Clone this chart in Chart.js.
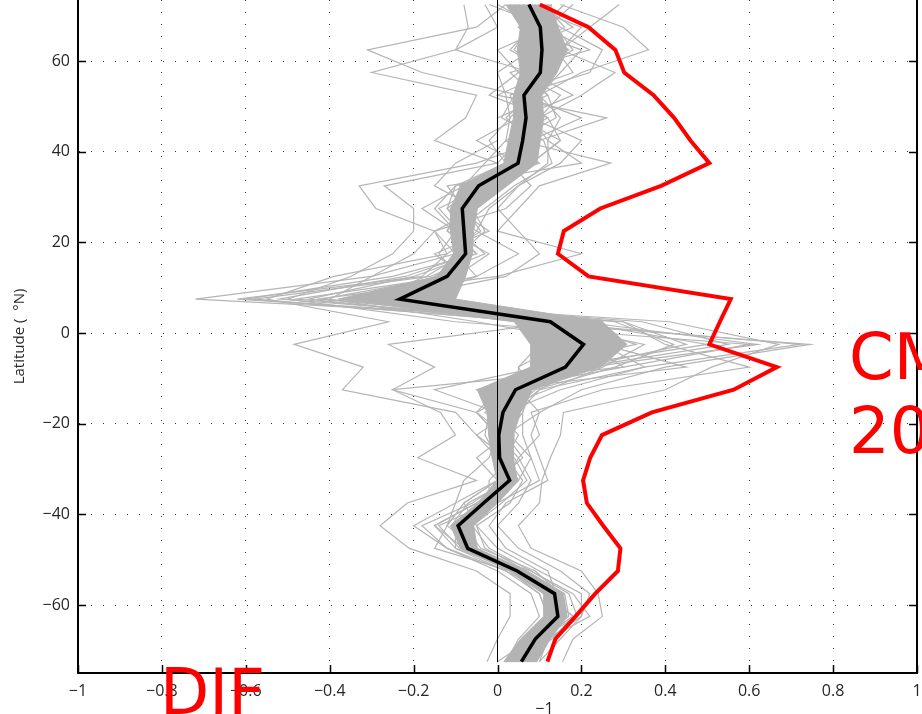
<!DOCTYPE html>
<html>
<head>
<meta charset="utf-8">
<script src="https://cdn.jsdelivr.net/npm/chart.js@4.4.1/dist/chart.umd.min.js"></script>
<style>
  html, body { margin: 0; padding: 0; background: #fff; overflow: hidden; }
  #wrap { position: relative; width: 922px; height: 714px; overflow: hidden; }
  .tag { position: absolute; color: #ff0000; font-family: "DejaVu Sans"; font-size: 64px; line-height: 74px; white-space: nowrap; }
  #xtitle { position: absolute; left: 0; top: 716px; width: 994px; text-align: center; font-family: "Open Sans"; font-size: 14px; line-height: 17px; color: #262626; white-space: nowrap; }
  #xtitle sup { position: relative; top: -16px; vertical-align: baseline; font-size: 16px; }
</style>
</head>
<body>
<div id="wrap">
  <canvas id="chart" width="922" height="714"></canvas>
  <div id="xtitle">Trend (mm day<sup>−1</sup>)</div>
  <div class="tag" style="left:160px; top:655px;">DJF</div>
  <div class="tag" style="left:849px; top:320px;">CMIP5<br>2006</div>
</div>
<script>
// latitude rows, north to south
const latitudes = [72.5, 67.5, 62.5, 57.5, 52.5, 47.5, 42.5, 37.5, 32.5, 27.5, 22.5, 17.5, 12.5, 7.5, 2.5,
  -2.5, -7.5, -12.5, -17.5, -22.5, -27.5, -32.5, -37.5, -42.5, -47.5, -52.5, -57.5, -62.5, -67.5, -72.5];

const xTicks = [-1, -0.8, -0.6, -0.4, -0.2, 0, 0.2, 0.4, 0.6, 0.8, 1];
const yTicks = [-60, -40, -20, 0, 20, 40, 60];
const yMin = -75;
const yMax = 73.5;

// multi-model mean (black) and observations (red)
const ensembleMean = [0.075, 0.102, 0.106, 0.102, 0.063, 0.068, 0.060, 0.049, -0.045, -0.084, -0.080, -0.076, -0.120, -0.233, 0.126,
  0.205, 0.162, 0.043, 0.013, 0.003, 0.005, 0.029, -0.033, -0.094, -0.071, 0.047, 0.136, 0.144, 0.090, 0.057];
const observed = [0.101, 0.217, 0.281, 0.302, 0.372, 0.421, 0.460, 0.505, 0.390, 0.245, 0.158, 0.144, 0.217, 0.556, 0.530,
  0.505, 0.666, 0.563, 0.368, 0.249, 0.221, 0.204, 0.213, 0.252, 0.293, 0.287, 0.233, 0.186, 0.138, 0.119];

// shaded spread
const bandHigh = [0.126, 0.145, 0.166, 0.142, 0.106, 0.110, 0.102, 0.094, 0.023, -0.048, -0.057, -0.060, -0.076, -0.100, 0.250,
  0.309, 0.245, 0.083, 0.055, 0.038, 0.038, 0.047, 0.000, -0.057, -0.048, 0.071, 0.157, 0.166, 0.126, 0.094];
const bandLow = [0.020, 0.055, 0.047, 0.055, 0.038, 0.038, 0.026, 0.015, -0.088, -0.112, -0.112, -0.105, -0.144, -0.380, 0.040,
  0.079, 0.079, -0.048, -0.025, -0.021, -0.013, -0.001, -0.048, -0.112, -0.088, 0.031, 0.110, 0.110, 0.055, 0.015];

// individual models (grey)
const model01 = [0.02, -0.05, -0.31, -0.18, 0.05, 0.12, 0.02, 0.10, -0.10, -0.12, -0.05, -0.10, -0.30, -0.72, 0.30, 0.45, 0.20, 0.05, -0.05, 0.02, 0.06, 0.00, -0.08, -0.12, -0.05, 0.05, 0.12, 0.18, 0.10, 0.05];
const model02 = [0.15, 0.30, 0.36, 0.20, 0.10, 0.05, 0.15, 0.08, -0.02, -0.10, -0.12, -0.05, -0.25, -0.60, 0.10, 0.72, 0.35, 0.10, 0.03, -0.05, 0.00, 0.05, -0.02, -0.10, -0.08, 0.08, 0.18, 0.22, 0.12, 0.08];
const model03 = [0.10, 0.18, 0.05, 0.12, 0.00, 0.26, 0.10, -0.05, -0.33, -0.29, -0.15, -0.12, -0.39, -0.55, -0.26, -0.485, -0.32, -0.37, -0.10, -0.05, 0.02, 0.04, -0.05, -0.15, -0.10, 0.02, 0.10, 0.12, 0.06, 0.03];
const model04 = [0.29, 0.22, 0.15, 0.05, 0.15, 0.10, 0.05, 0.27, 0.10, 0.05, 0.00, 0.20, 0.00, -0.43, 0.41, 0.67, 0.51, 0.40, 0.157, 0.15, 0.126, 0.106, 0.10, 0.05, 0.08, 0.20, 0.24, 0.25, 0.18, 0.155];
const model05 = [-0.08, -0.07, -0.10, -0.30, -0.05, -0.076, -0.15, 0.00, -0.27, -0.20, -0.20, -0.25, -0.35, -0.50, -0.10, 0.60, 0.30, -0.25, -0.136, -0.10, -0.19, -0.05, -0.215, -0.28, -0.21, -0.05, 0.03, 0.03, 0.00, -0.025];
const model06 = [0.05, 0.08, 0.12, 0.10, 0.08, 0.02, 0.08, 0.05, 0.00, -0.05, -0.08, -0.10, -0.14, -0.37, 0.345, 0.55, 0.20, 0.10, 0.05, 0.03, 0.08, 0.05, 0.00, -0.08, -0.05, 0.06, 0.15, 0.16, 0.09, 0.06];
const model07 = [0.12, 0.05, 0.20, 0.15, 0.10, 0.15, 0.12, 0.12, 0.05, -0.02, -0.05, 0.05, -0.05, -0.30, 0.20, 0.30, 0.10, -0.15, 0.00, 0.05, 0.02, 0.06, 0.03, -0.05, 0.00, 0.10, 0.20, 0.20, 0.15, 0.10];
const model08 = [0.00, 0.10, 0.08, 0.00, 0.02, 0.03, -0.02, 0.02, -0.10, -0.15, -0.10, -0.05, -0.20, -0.45, 0.05, 0.745, 0.40, 0.20, 0.10, 0.02, -0.05, 0.00, -0.10, -0.20, -0.12, 0.00, 0.08, 0.10, 0.05, 0.02];
const model09 = [0.08, 0.15, 0.25, 0.22, 0.05, 0.08, 0.20, 0.15, 0.05, 0.00, 0.05, 0.10, 0.02, -0.25, 0.25, 0.15, 0.05, 0.05, 0.10, 0.08, 0.10, 0.12, 0.02, -0.02, 0.02, 0.12, 0.14, 0.15, 0.12, 0.09];
const model10 = [0.18, 0.12, 0.00, 0.05, 0.12, 0.00, 0.00, -0.10, -0.15, -0.05, -0.15, -0.20, -0.30, -0.40, -0.05, 0.25, 0.45, 0.00, -0.05, 0.00, -0.02, -0.08, -0.10, -0.12, -0.15, 0.03, 0.10, 0.12, 0.08, 0.00];
const model11 = [-0.03, 0.00, -0.10, 0.08, 0.18, 0.05, -0.05, 0.05, 0.00, -0.10, -0.02, -0.15, -0.08, -0.35, 0.15, -0.26, -0.15, -0.25, -0.05, 0.00, 0.05, 0.02, -0.03, -0.10, -0.10, 0.05, 0.12, 0.14, 0.06, 0.04];
const model12 = [0.06, 0.20, 0.15, 0.28, 0.20, 0.10, 0.05, 0.00, 0.02, -0.08, -0.12, -0.02, -0.10, -0.33, 0.30, 0.40, 0.60, 0.25, 0.08, 0.10, 0.05, 0.08, 0.05, 0.00, 0.05, 0.15, 0.22, 0.20, 0.12, 0.10];
const model13 = [0.10, 0.05, 0.10, 0.05, -0.02, 0.12, 0.15, 0.08, -0.05, -0.12, -0.08, -0.08, -0.15, -0.28, 0.10, 0.35, 0.25, 0.12, -0.02, -0.03, 0.00, 0.03, -0.05, -0.15, -0.08, 0.04, 0.12, 0.13, 0.07, 0.05];
const model14 = [0.04, 0.14, 0.18, 0.10, 0.08, 0.03, 0.02, -0.03, -0.08, -0.18, -0.10, -0.06, -0.22, -0.52, 0.18, 0.50, 0.15, -0.05, 0.04, -0.02, 0.03, 0.00, -0.08, -0.05, -0.03, 0.07, 0.16, 0.17, 0.10, 0.07];
const model15 = [0.13, 0.08, 0.03, 0.12, 0.06, 0.20, 0.08, 0.03, 0.08, 0.02, -0.15, -0.10, -0.05, -0.20, 0.05, 0.10, 0.05, 0.08, 0.06, 0.06, 0.08, 0.10, 0.00, -0.08, -0.04, 0.09, 0.15, 0.14, 0.11, 0.08];
const model16 = [0.07, 0.11, 0.22, 0.03, 0.09, 0.08, 0.12, 0.20, -0.12, -0.08, -0.04, -0.12, -0.18, -0.62, 0.22, 0.25, 0.35, 0.15, 0.02, 0.00, 0.00, 0.02, -0.06, -0.18, -0.12, 0.02, 0.13, 0.15, 0.09, 0.06];
const model17 = [0.09, 0.06, 0.14, 0.18, 0.03, 0.05, 0.09, 0.02, -0.06, -0.10, -0.06, -0.09, -0.12, -0.42, 0.14, 0.28, 0.18, 0.02, 0.00, 0.01, -0.01, 0.04, -0.04, -0.09, -0.06, 0.06, 0.14, 0.15, 0.08, 0.06];
const model18 = [-0.02, 0.12, 0.09, 0.06, 0.12, 0.14, 0.04, 0.06, -0.03, -0.14, -0.09, -0.03, -0.16, -0.58, 0.08, 0.20, 0.12, 0.06, -0.03, 0.04, 0.03, -0.02, -0.02, -0.14, -0.09, 0.03, 0.11, 0.18, 0.13, 0.04];
const model19 = [0.11, 0.16, 0.07, 0.14, 0.04, 0.01, 0.11, 0.13, 0.04, -0.03, -0.10, -0.14, -0.09, -0.22, 0.28, 0.42, 0.28, 0.09, 0.03, -0.01, 0.04, 0.07, 0.01, -0.06, -0.02, 0.08, 0.17, 0.19, 0.10, 0.09];
const model20 = [0.03, 0.09, 0.11, 0.09, 0.07, 0.09, 0.07, 0.04, -0.09, -0.07, -0.07, -0.07, -0.11, -0.48, 0.12, 0.22, 0.30, 0.00, 0.02, 0.00, 0.01, 0.03, -0.07, -0.11, -0.07, 0.04, 0.13, 0.14, 0.09, 0.05];
const model21 = [0.16, 0.10, 0.17, 0.07, 0.10, 0.06, 0.03, 0.09, -0.04, -0.06, -0.03, -0.09, -0.13, -0.36, 0.20, 0.62, 0.22, 0.07, 0.06, 0.02, 0.02, 0.05, -0.01, -0.07, -0.06, 0.06, 0.15, 0.12, 0.10, 0.07];
const model22 = [0.05, 0.07, 0.04, 0.11, 0.05, 0.07, 0.05, 0.07, -0.07, -0.09, -0.11, -0.08, -0.17, -0.31, 0.16, 0.33, 0.09, 0.03, 0.01, 0.03, 0.00, 0.01, -0.04, -0.10, -0.07, 0.05, 0.12, 0.14, 0.07, 0.05];
const models = [model01, model02, model03, model04, model05, model06, model07, model08, model09, model10, model11,
  model12, model13, model14, model15, model16, model17, model18, model19, model20, model21, model22];

const toPoints = vals => vals.map((v, i) => ({ x: v, y: latitudes[i] }));
const minus = v => String(v).replace('-', '\u2212');

// frame on the right and inward tick marks
const framePlugin = {
  id: 'frame',
  afterDraw(chart) {
    const { ctx, chartArea: a, scales: { x, y } } = chart;
    ctx.save();
    ctx.strokeStyle = '#000';
    ctx.lineWidth = 2;
    ctx.beginPath();
    ctx.moveTo(a.right, a.top);
    ctx.lineTo(a.right, a.bottom + 1);
    ctx.stroke();
    ctx.lineWidth = 1.5;
    ctx.beginPath();
    y.ticks.forEach(t => {
      const py = Math.round(y.getPixelForValue(t.value)) + 0.5;
      ctx.moveTo(a.left, py); ctx.lineTo(a.left + 8, py);
      ctx.moveTo(a.right, py); ctx.lineTo(a.right - 8, py);
    });
    x.ticks.forEach(t => {
      const px = Math.round(x.getPixelForValue(t.value)) + 0.5;
      ctx.moveTo(px, a.bottom); ctx.lineTo(px, a.bottom - 8);
    });
    ctx.stroke();
    ctx.restore();
  }
};

const line = (data, color, width) => ({
  data: data, showLine: true, borderColor: color, borderWidth: width,
  pointRadius: 0, pointHoverRadius: 0, tension: 0, fill: false
});

const datasets = [
  line(toPoints(observed), '#ff0000', 4),
  line(toPoints(ensembleMean), '#000000', 3.5),
  line([{ x: 0, y: yMax }, { x: 0, y: latitudes[latitudes.length - 1] }], '#000000', 1),
  Object.assign(line(toPoints(bandHigh).concat(toPoints(bandLow).reverse()), '#b3b3b3', 1),
    { backgroundColor: '#b3b3b3', fill: 'shape' }),
  ...models.map(m => line(toPoints(m), '#b5b5b5', 1.2))
];

const tickFont = { family: 'Open Sans', size: 16 };
const dotted = { color: '#333', lineWidth: 1, drawTicks: false };

new Chart(document.getElementById('chart'), {
  type: 'scatter',
  data: { datasets: datasets },
  plugins: [framePlugin],
  options: {
    responsive: false,
    animation: false,
    events: [],
    layout: { padding: { left: 0, right: 5, top: 0, bottom: 0 } },
    plugins: { legend: { display: false }, tooltip: { enabled: false } },
    scales: {
      x: {
        type: 'linear', min: -1, max: 1,
        afterBuildTicks: s => { s.ticks = xTicks.map(v => ({ value: v })); },
        afterFit: s => { s.height = 41; s.paddingLeft = 0; s.paddingRight = 0; },
        ticks: { font: tickFont, color: '#262626', padding: 9, maxRotation: 0, callback: minus },
        grid: dotted,
        border: { color: '#000', width: 2, dash: [1, 11] }
      },
      y: {
        type: 'linear', min: yMin, max: yMax,
        afterBuildTicks: s => { s.ticks = yTicks.map(v => ({ value: v })); },
        afterFit: s => { s.width = 78; s.paddingTop = 0; s.paddingBottom = 0; },
        ticks: { font: tickFont, color: '#262626', padding: 8, callback: minus },
        grid: dotted,
        border: { color: '#000', width: 2, dash: [1, 11] },
        title: {
          display: true, text: 'Latitude (  \u00b0N)', color: '#262626',
          font: { family: 'Open Sans', size: 15 }, padding: { top: 11, bottom: 0 }
        }
      }
    }
  }
});
</script>
</body>
</html>
